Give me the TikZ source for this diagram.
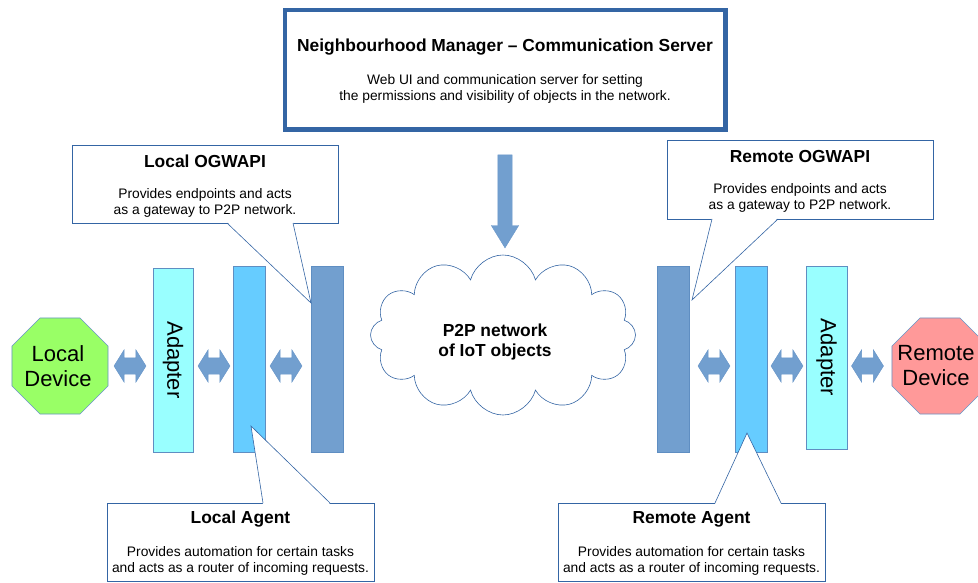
\documentclass[tikz,border=0pt]{standalone}
\usepackage{fontspec}
\setmainfont{Liberation Sans}
\usetikzlibrary{shapes.geometric,shapes.symbols,shapes.arrows}
\definecolor{frame}{HTML}{3465A4}
\definecolor{steel}{HTML}{729FCF}
\definecolor{sky}{HTML}{66CCFF}
\definecolor{aqua}{HTML}{99FFFF}
\definecolor{lime}{HTML}{99FF66}
\definecolor{rose}{HTML}{FF9999}

\begin{document}
\begin{tikzpicture}[x=1pt, y=-1pt,
    bar/.style ={rectangle, draw=steel!70!frame, line width=0.6pt, inner sep=0pt},
    device/.style ={regular polygon, regular polygon sides=8, minimum size=104pt, inner sep=0pt,
      draw=steel!80!frame, line width=0.6pt},
    devicetext/.style ={align=center, font=\fontsize{22}{25}\selectfont},
    link/.style ={double arrow, fill=steel, draw=steel!85!frame, line width=0.4pt,
      minimum height=32pt, minimum width=32pt, double arrow head extend=8pt,
      inner xsep=0pt, inner ysep=8pt, double arrow tip angle=116},
    note/.style ={rectangle, draw=frame, line width=0.6pt, fill=white, inner sep=0pt},
    pointer/.style ={draw=frame, line width=0.6pt},
    heading/.style ={font=\fontsize{17.4}{20}\selectfont\bfseries},
    detail/.style ={align=center, font=\fontsize{13.8}{16.5}\selectfont}]
   \useasboundingbox (0,0) rectangle (978,583);

   \node[note, line width=4.5pt, minimum width=440.5pt, minimum height=119.5pt] (nm) at (505.25,69.75) {};
   \node[heading] (nmt) at (505,47) {Neighbourhood Manager – Communication Server};
   \node[detail] (nmd) at (505,89) {Web UI and communication server for setting\\the permissions and visibility of objects in the network.};

   \node[single arrow, rotate=-90, fill=steel, draw=steel!85!frame, line width=0.4pt,
     minimum height=93pt, minimum width=27pt, single arrow head extend=6.5pt,
     inner xsep=0pt, inner ysep=7pt, single arrow tip angle=63] (down) at (505,195.5) {};

   \node[cloud, cloud puffs=12, aspect=1.65, draw=frame, line width=0.6pt, fill=white,
     minimum width=265pt, minimum height=160pt] (p2p) at (503,335) {};
   \node[heading, align=center, font=\fontsize{17.4}{19.5}\selectfont\bfseries] (p2pt) at (495,342) {P2P network\\of IoT objects};

   \node[device, fill=lime] (ld) at (60,366) {};
   \node[devicetext] (ldt) at (58,366) {Local\\Device};
   \node[device, fill=rose] (rd) at (940,366) {};
   \node[devicetext] (rdt) at (936,366) {Remote\\Device};

   \node[bar, fill=aqua, rotate=-90, minimum width=184pt, minimum height=40pt,
     font=\fontsize{22}{25}\selectfont] (lad) at (173,360) {Adapter};
   \node[bar, fill=sky, minimum width=32pt, minimum height=186pt] (lag) at (249,359) {};
   \node[bar, fill=steel, minimum width=32pt, minimum height=186pt] (log) at (327,359) {};

   \node[bar, fill=steel, minimum width=32pt, minimum height=186pt] (rog) at (673,359) {};
   \node[bar, fill=sky, minimum width=32pt, minimum height=186pt] (rag) at (751,359) {};
   \node[bar, fill=aqua, rotate=-90, minimum width=183pt, minimum height=41pt,
     font=\fontsize{22}{25}\selectfont] (rad) at (826.5,357.5) {Adapter};

   \node[link] (l1) at (130,366) {};
   \node[link] (l2) at (214,366) {};
   \node[link] (l3) at (286,366) {};
   \node[link] (r1) at (714,366) {};
   \node[link] (r2) at (787,366) {};
   \node[link] (r3) at (867.5,366) {};

   \node[note, minimum width=266pt, minimum height=78pt] (lon) at (205,184) {};
   \coordinate (lop1) at (227,223);
   \coordinate (lop2) at (293,223);
   \coordinate (lop) at (311,303);
   \fill[white] ([yshift=1pt]lop1) -- (lop) -- ([yshift=1pt]lop2) -- cycle;
   \draw[pointer] (lop1) -- (lop) -- (lop2);
   \node[heading] (lont) at (205,161) {Local OGWAPI};
   \node[detail] (lond) at (205,203) {Provides endpoints and acts\\as a gateway to P2P network.};

   \node[note, minimum width=266pt, minimum height=79pt] (ron) at (800,179.5) {};
   \coordinate (rop1) at (712,219);
   \coordinate (rop2) at (778,219);
   \coordinate (rop) at (692,300);
   \fill[white] ([yshift=1pt]rop1) -- (rop) -- ([yshift=1pt]rop2) -- cycle;
   \draw[pointer] (rop1) -- (rop) -- (rop2);
   \node[heading] (ront) at (800,157) {Remote OGWAPI};
   \node[detail] (rond) at (800,198) {Provides endpoints and acts\\as a gateway to P2P network.};

   \node[note, minimum width=267pt, minimum height=78pt] (lan) at (240.5,542) {};
   \coordinate (lap1) at (263,503);
   \coordinate (lap2) at (330,503);
   \coordinate (lap) at (251,426);
   \fill[white] ([yshift=-1pt]lap1) -- (lap) -- ([yshift=-1pt]lap2) -- cycle;
   \draw[pointer] (lap1) -- (lap) -- (lap2);
   \node[heading] (lant) at (240.5,519) {Local Agent};
   \node[detail] (land) at (240.5,561) {Provides automation for certain tasks\\and acts as a router of incoming requests.};

   \node[note, minimum width=267pt, minimum height=78pt] (ran) at (691.5,542) {};
   \coordinate (rap1) at (715,503);
   \coordinate (rap2) at (781,503);
   \coordinate (rap) at (747,433);
   \fill[white] ([yshift=-1pt]rap1) -- (rap) -- ([yshift=-1pt]rap2) -- cycle;
   \draw[pointer] (rap1) -- (rap) -- (rap2);
   \node[heading] (rant) at (691.5,519) {Remote Agent};
   \node[detail] (rand) at (691.5,561) {Provides automation for certain tasks\\and acts as a router of incoming requests.};
 \end{tikzpicture}
\end{document}
